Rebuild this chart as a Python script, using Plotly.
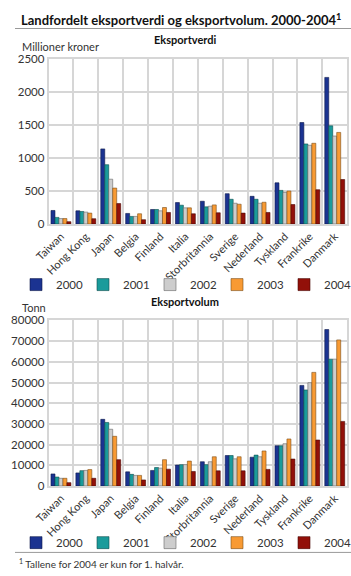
import plotly.graph_objects as go

countries = ["Taiwan", "Hong Kong", "Japan", "Belgia", "Finland", "Italia", "Storbritannia",
             "Sverige", "Nederland", "Tyskland", "Frankrike", "Danmark"]
years = ["2000", "2001", "2002", "2003", "2004"]

verdi_2000 = [205, 200, 1140, 160, 220, 325, 345, 460, 420, 625, 1540, 2225]
verdi_2001 = [100, 190, 900, 115, 220, 285, 260, 375, 375, 510, 1215, 1490]
verdi_2002 = [82, 180, 680, 115, 200, 245, 270, 315, 315, 480, 1195, 1335]
verdi_2003 = [82, 165, 545, 155, 250, 245, 290, 300, 330, 500, 1225, 1390]
verdi_2004 = [35, 80, 310, 65, 175, 155, 170, 165, 175, 295, 520, 675]

volum_2000 = [5800, 6300, 32200, 6800, 7500, 10100, 11700, 14700, 13900, 19400, 48600, 75600]
volum_2001 = [4300, 7400, 30700, 5600, 8900, 10300, 10300, 14700, 14900, 19400, 46400, 61300]
volum_2002 = [3700, 7500, 27400, 5100, 8600, 10300, 11700, 13100, 14100, 20400, 49900, 61300]
volum_2003 = [3700, 7900, 24000, 5100, 12700, 12000, 14100, 14100, 16900, 22700, 54900, 70600]
volum_2004 = [1600, 3700, 12700, 2900, 8100, 7000, 7300, 7300, 8000, 13000, 22200, 31200]

colors = ["#1b3391", "#1a9b9b", "#cdcdcd", "#f89a33", "#921009"]
line_colors = ["#0d1a4a", "#0d4d4d", "#666666", "#7a4d19", "#490805"]

verdi = [verdi_2000, verdi_2001, verdi_2002, verdi_2003, verdi_2004]
volum = [volum_2000, volum_2001, volum_2002, volum_2003, volum_2004]

W, H = 351, 576
FONT = "Lato"

def px_x(x):
    return x / W

def px_y(y):
    return 1 - y / H

fig = go.Figure()
for i, y in enumerate(years):
    fig.add_trace(go.Bar(x=countries, y=verdi[i], name=y, xaxis="x", yaxis="y",
                         marker=dict(color=colors[i], line=dict(color=line_colors[i], width=0.6)),
                         legend="legend", showlegend=True))
for i, y in enumerate(years):
    fig.add_trace(go.Bar(x=countries, y=volum[i], name=y, xaxis="x2", yaxis="y2",
                         marker=dict(color=colors[i], line=dict(color=line_colors[i], width=0.6)),
                         legend="legend2", showlegend=True))

xdom = [px_x(35), px_x(347)]
grid = "#d6d6d6"
axis_common = dict(showgrid=True, gridcolor=grid, gridwidth=1.5, showline=True, linecolor=grid,
                   linewidth=1.5, mirror=True, zeroline=False,
                   tickfont=dict(family=FONT, size=11.5, color="#333333"))

xaxis_common = dict(axis_common, type="category", tickson="boundaries", tickangle=-45,
                    ticks="", domain=xdom, tickfont=dict(family=FONT, size=11, color="#333333"))

legend_common = dict(orientation="h", xanchor="left", yanchor="middle",
                     entrywidth=22, entrywidthmode="pixels",
                     font=dict(family=FONT, size=11.5, color="#333333"),
                     itemclick=False, itemdoubleclick=False, traceorder="normal",
                     bgcolor="rgba(0,0,0,0)")

fig.update_layout(
    width=W, height=H,
    margin=dict(l=0, r=0, t=0, b=0),
    paper_bgcolor="white", plot_bgcolor="white",
    barmode="group", bargap=0.2, bargroupgap=0,
    font=dict(family=FONT, color="#222222"),
    xaxis=dict(xaxis_common, anchor="y"),
    yaxis=dict(axis_common, domain=[px_y(222), px_y(53.5)], range=[0, 2500], dtick=500,
               anchor="x", ticks="", tickformat="d"),
    xaxis2=dict(xaxis_common, anchor="y2"),
    yaxis2=dict(axis_common, domain=[px_y(490), px_y(320.7)], range=[0, 80000], dtick=10000,
                anchor="x2", ticks="", tickformat="d"),
    legend=dict(legend_common, x=px_x(26), y=px_y(284)),
    legend2=dict(legend_common, x=px_x(26), y=px_y(548)),
    annotations=[
        dict(text="<b>Landfordelt eksportverdi og eksportvolum. 2000-2004<sup>1</sup></b>",
             x=px_x(4), y=px_y(13), xref="paper", yref="paper", xanchor="left", yanchor="middle",
             showarrow=False, font=dict(family=FONT, size=13, color="#111111")),
        dict(text="<b>Eksportverdi</b>", x=px_x(178), y=px_y(33), xref="paper", yref="paper",
             xanchor="center", yanchor="middle", showarrow=False,
             font=dict(family=FONT, size=11, color="#111111")),
        dict(text="Millioner kroner", x=px_x(5), y=px_y(40), xref="paper", yref="paper",
             xanchor="left", yanchor="middle", showarrow=False,
             font=dict(family=FONT, size=11, color="#333333")),
        dict(text="<b>Eksportvolum</b>", x=px_x(178), y=px_y(301), xref="paper", yref="paper",
             xanchor="center", yanchor="middle", showarrow=False,
             font=dict(family=FONT, size=11, color="#111111")),
        dict(text="Tonn", x=px_x(5), y=px_y(307), xref="paper", yref="paper",
             xanchor="left", yanchor="middle", showarrow=False,
             font=dict(family=FONT, size=11, color="#333333")),
        dict(text="<sup>1</sup> Tallene for 2004 er kun for 1. halvår.", x=px_x(2), y=px_y(569),
             xref="paper", yref="paper", xanchor="left", yanchor="middle", showarrow=False,
             font=dict(family=FONT, size=10, color="#333333")),
    ],
    shapes=[
        dict(type="line", xref="paper", yref="paper", x0=0, x1=1, y0=px_y(22), y1=px_y(22),
             line=dict(color="#999999", width=1)),
        dict(type="line", xref="paper", yref="paper", x0=0, x1=1, y0=px_y(558), y1=px_y(558),
             line=dict(color="#999999", width=1)),
    ],
)

fig.write_html("out.html")
